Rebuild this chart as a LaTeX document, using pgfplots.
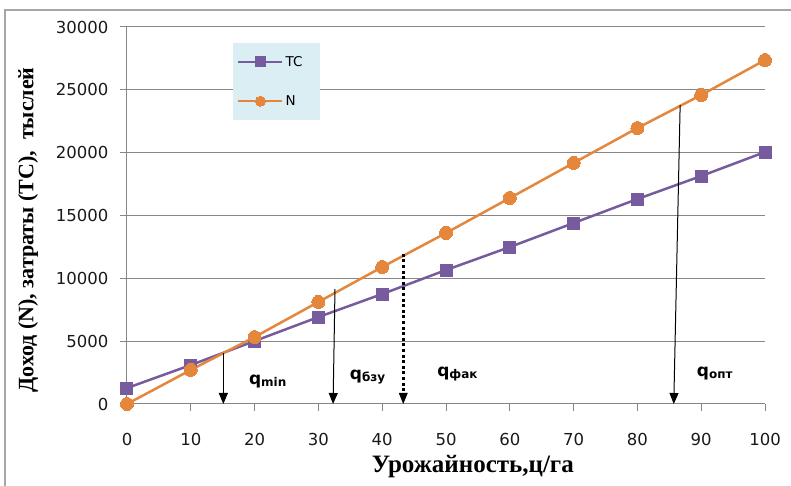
\documentclass[border=0pt]{standalone}
\usepackage{fontspec}
\setmainfont{Liberation Serif}
\newfontfamily\tickfont{DejaVu Sans}
\usepackage{pgfplots}
\pgfplotsset{compat=1.18}
\usetikzlibrary{arrows.meta}

\definecolor{tcpurple}{RGB}{118,91,158}
\definecolor{norange}{RGB}{228,135,60}
\definecolor{gridgray}{RGB}{134,134,134}
\definecolor{legfill}{RGB}{219,238,244}

\begin{document}
\begin{tikzpicture}
\begin{axis}[
    name=ax,
    scale only axis,
    width=638pt, height=377pt,
    xmin=0, xmax=100, ymin=0, ymax=30000,
    clip=false,
    axis lines*=left,
    axis line style={gridgray, line width=1pt},
    xtick={0,10,...,100},
    ytick={0,5000,...,30000},
    ymajorgrids,
    grid style={gridgray, line width=1pt},
    tick style={gridgray, line width=1pt},
    tick align=outside,
    major tick length=7pt,
    scaled y ticks=false,
    /pgf/number format/set thousands separator={},
    /pgf/number format/assume math mode=true,
    ticklabel style={font=\tickfont\fontsize{16.5}{18}\selectfont, text=black!90},
    xticklabel style={yshift=-19pt},
    yticklabel style={xshift=-8pt},
    xlabel={\bfseries Урожайность,ц/га},
    ylabel={\bfseries Доход (N), затраты (TC),\ \ тыслей},
    xlabel style={at={(axis description cs:0.542,-0.167)}, anchor=center,
                  font=\fontsize{25}{27}\selectfont},
    ylabel style={at={(axis description cs:-0.155,0.462)}, anchor=center,
                  font=\fontsize{22}{24}\selectfont},
    legend style={at={(axis description cs:0.166,0.958)}, anchor=north west,
                  fill=legfill, draw=none, inner xsep=4pt, inner ysep=11pt,
                  row sep=24pt,
                  font=\tickfont\fontsize{13.5}{14}\selectfont,
                  nodes={inner sep=2pt}},
    legend cell align=left,
    legend image code/.code={\draw[mark repeat=2,mark phase=2,mark size=5pt,#1] plot coordinates {(0pt,0pt)(22pt,0pt)(44pt,0pt)};},
]
\addplot[tcpurple, line width=2.5pt, mark=square*, mark size=6pt,
         mark options={solid, line width=0pt}] coordinates {
(0,1270)(10,3100)(20,5010)(30,6920)(40,8750)(50,10660)
(60,12490)(70,14400)(80,16310)(90,18140)(100,20050)};
\addplot[norange, line width=2.5pt, mark=*, mark size=6.5pt,
         mark options={solid, line width=0pt}] coordinates {
(0,0)(10,2710)(20,5330)(30,8120)(40,10900)(50,13610)
(60,16390)(70,19180)(80,21960)(90,24590)(100,27370)};
\legend{TC\rule{12pt}{0pt}, N}

% arrows to the yield axis
\addplot[black, line width=1pt, -{Triangle[width=9pt,length=11pt]}, forget plot]
  coordinates {(15.1,4064)(15.1,0)};
\addplot[black, line width=1pt, -{Triangle[width=9pt,length=11pt]}, forget plot]
  coordinates {(32.6,9140)(32.3,0)};
\addplot[black, line width=3pt, dash pattern=on 3pt off 2.6pt,
         -{Triangle[width=9pt,length=11pt,line width=0pt]}, forget plot]
  coordinates {(43.3,11950)(43.3,0)};
\addplot[black, line width=1pt, -{Triangle[width=9pt,length=11pt]}, forget plot]
  coordinates {(86.7,23790)(85.7,0)};

\node[anchor=west, inner sep=0pt] at (axis cs:19.1,1750)
  {\tickfont\bfseries\fontsize{17}{18}\selectfont q\raisebox{-2pt}{\fontsize{12}{13}\selectfont min}};
\node[anchor=west, inner sep=0pt] at (axis cs:34.9,2150)
  {\tickfont\bfseries\fontsize{17}{18}\selectfont q\raisebox{-2pt}{\fontsize{12}{13}\selectfont бзу}};
\node[anchor=west, inner sep=0pt] at (axis cs:48.6,2390)
  {\tickfont\bfseries\fontsize{17}{18}\selectfont q\raisebox{-2pt}{\fontsize{12}{13}\selectfont фак}};
\node[anchor=west, inner sep=0pt] at (axis cs:89.3,2390)
  {\tickfont\bfseries\fontsize{17}{18}\selectfont q\raisebox{-2pt}{\fontsize{12}{13}\selectfont опт}};
\end{axis}
\pgfresetboundingbox
\path[use as bounding box] (-127pt,-82pt) rectangle (664pt,404pt);
\draw[gray!70, line width=1.5pt] (-122pt,-90pt) -- (-122pt,394pt) -- (670pt,394pt);
\end{tikzpicture}
\end{document}
